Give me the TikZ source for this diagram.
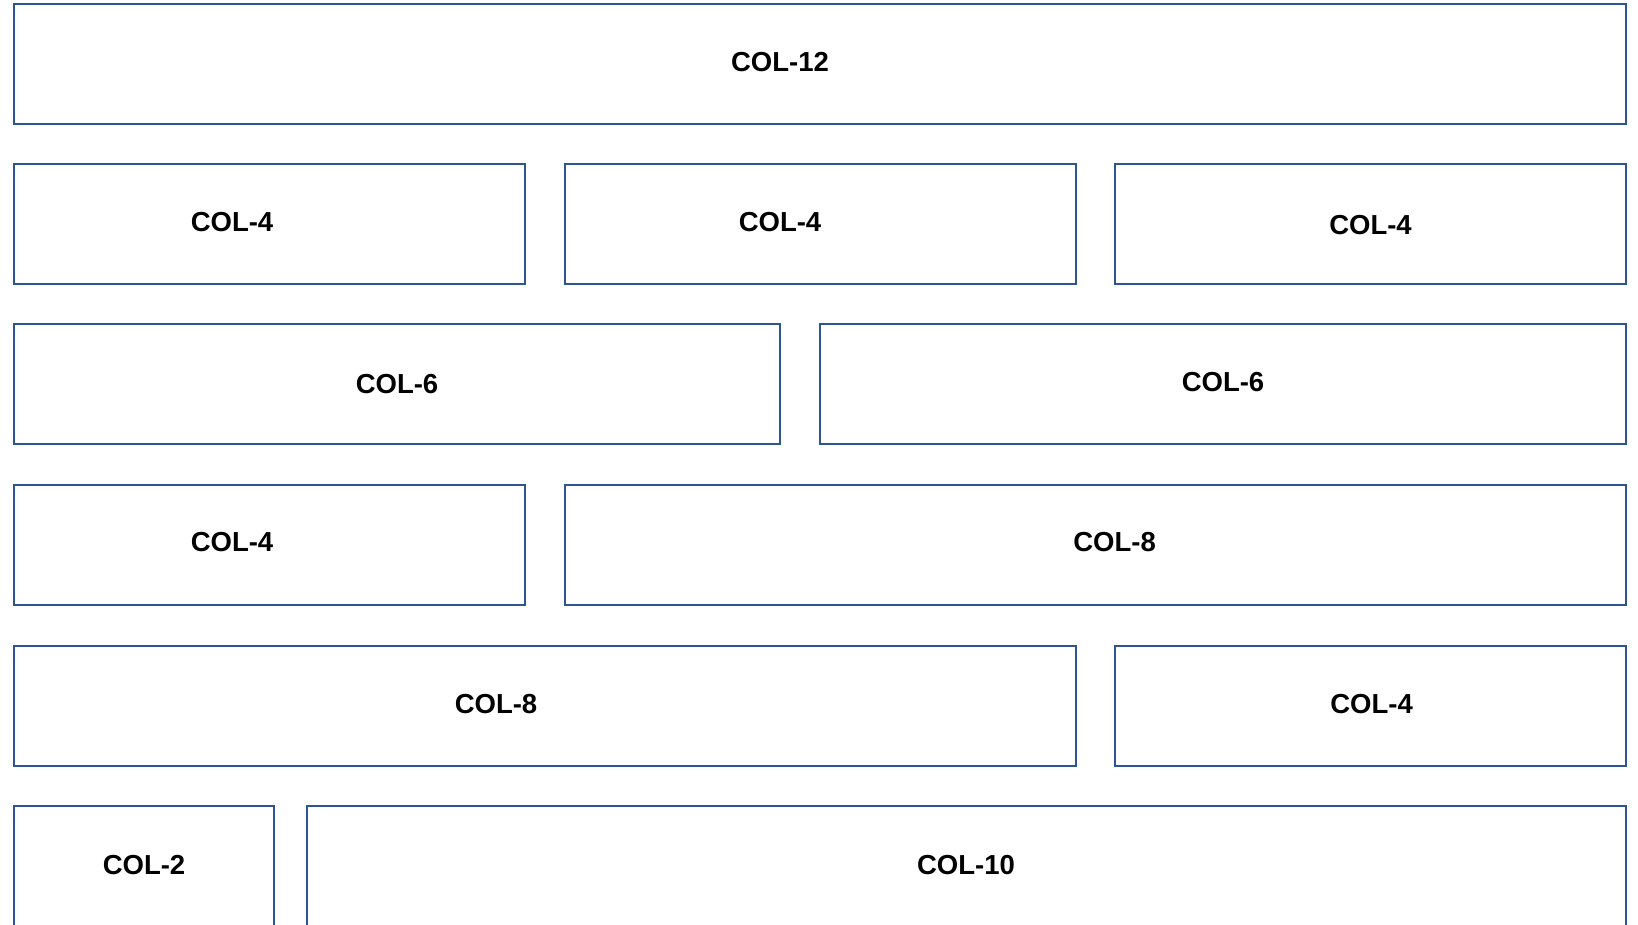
\documentclass[tikz,border=0pt]{standalone}
\usepackage{fontspec}
\setmainfont{Liberation Sans}
\definecolor{boxblue}{RGB}{47,84,150}
\begin{document}
\begin{tikzpicture}[x=1pt,y=-1pt,
  box/.style={draw=boxblue,line width=2pt,inner sep=0pt,minimum height=120pt},
  lbl/.style={inner sep=0pt,font=\fontsize{27.5}{33}\selectfont\bfseries}]
\useasboundingbox (0,0) rectangle (1638,924);
\clip (0,0) rectangle (1638,924);
% row 1
\node[box,minimum width=1612pt] (r1) at (820,63.5) {};
\node[lbl] (t1) at (780,61.6) {COL-12};
% row 2
\node[box,minimum width=510.5pt] (r2a) at (269.25,223.5) {};
\node[box,minimum width=511pt] (r2b) at (820,223.5) {};
\node[box,minimum width=511pt] (r2c) at (1370.5,223.5) {};
\node[lbl] (t2a) at (232,222.5) {COL-4};
\node[lbl] (t2b) at (780,222.5) {COL-4};
\node[lbl] (t2c) at (1370.5,224.6) {COL-4};
% row 3
\node[box,minimum width=766pt] (r3a) at (397,384) {};
\node[box,minimum width=806pt] (r3b) at (1223,384) {};
\node[lbl] (t3a) at (397,384.4) {COL-6};
\node[lbl] (t3b) at (1223,382.3) {COL-6};
% row 4
\node[box,minimum width=510.5pt] (r4a) at (269.25,545) {};
\node[box,minimum width=1061.5pt] (r4b) at (1095.25,545) {};
\node[lbl] (t4a) at (232,542) {COL-4};
\node[lbl] (t4b) at (1114.6,542) {COL-8};
% row 5
\node[box,minimum width=1061.5pt] (r5a) at (544.75,705.5) {};
\node[box,minimum width=511pt] (r5b) at (1370.5,705.5) {};
\node[lbl] (t5a) at (496,704) {COL-8};
\node[lbl] (t5b) at (1371.6,704) {COL-4};
% row 6
\node[box,minimum width=259.7pt,minimum height=160pt] (r6a) at (143.85,886) {};
\node[box,minimum width=1319.3pt,minimum height=160pt] (r6b) at (966.35,886) {};
\node[lbl] (t6a) at (144,865.5) {COL-2};
\node[lbl] (t6b) at (966,865.5) {COL-10};
\end{tikzpicture}
\end{document}
